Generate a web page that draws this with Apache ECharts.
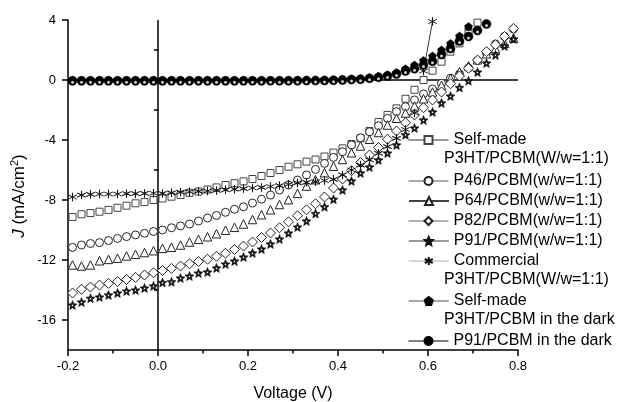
<!DOCTYPE html>
<html><head><meta charset="utf-8">
<script src="https://cdn.jsdelivr.net/npm/echarts@6/dist/echarts.min.js"></script>
<style>html,body{margin:0;padding:0;background:#fff}#c{width:619px;height:402px}</style>
</head><body><div id="c"></div>
<script>
// ---- data ----
const voltages = [-0.19,-0.17,-0.15,-0.13,-0.11,-0.09,-0.07,-0.05,-0.03,-0.01,
  0.01,0.03,0.05,0.07,0.09,0.11,0.13,0.15,0.17,0.19,
  0.21,0.23,0.25,0.27,0.29,0.31,0.33,0.35,0.37,0.39,
  0.41,0.43,0.45,0.47,0.49,0.51,0.53,0.55,0.57,0.59,
  0.61,0.63,0.65,0.67,0.69,0.71,0.73,0.75,0.77,0.79];

const selfMade = [-9.13,-8.95,-8.87,-8.78,-8.66,-8.52,-8.38,-8.22,-8.14,-8.0,
  -7.9,-7.78,-7.67,-7.52,-7.44,-7.3,-7.16,-7.0,-6.88,-6.76,
  -6.6,-6.4,-6.2,-6.0,-5.78,-5.62,-5.44,-5.3,-5.1,-4.84,
  -4.56,-4.27,-3.89,-3.4,-2.8,-2.33,-1.89,-1.25,-0.65,0.0,
  0.62,1.22,1.89,2.44,3.22,3.82];

const p46 = [-11.16,-11.0,-10.9,-10.84,-10.7,-10.56,-10.44,-10.33,-10.22,-10.1,
  -10.0,-9.85,-9.73,-9.6,-9.4,-9.2,-9.03,-8.82,-8.62,-8.45,
  -8.2,-7.95,-7.67,-7.33,-7.0,-6.67,-6.33,-5.96,-5.56,-5.16,
  -4.78,-4.33,-3.85,-3.45,-3.05,-2.56,-2.11,-1.78,-1.33,-0.93,
  -0.6,-0.22,0.12,0.4,0.8,1.3,1.8,2.4,2.9,3.4];

const p64 = [-12.33,-12.4,-12.33,-12.05,-11.96,-11.88,-11.73,-11.62,-11.5,-11.38,
  -11.22,-11.15,-11.0,-10.8,-10.62,-10.45,-10.25,-10.02,-9.82,-9.6,
  -9.3,-8.98,-8.65,-8.3,-7.98,-7.56,-7.07,-6.65,-6.18,-5.75,
  -5.3,-4.85,-4.4,-3.95,-3.5,-3.0,-2.55,-2.2,-1.73,-1.25,
  -0.8,-0.35,0.1,0.55,0.95,1.35,1.75,2.1,2.45,2.8];

const p82 = [-14.2,-13.95,-13.8,-13.67,-13.56,-13.44,-13.3,-13.16,-13.0,-12.85,
  -12.7,-12.56,-12.4,-12.25,-12.1,-11.95,-11.75,-11.55,-11.3,-11.07,
  -10.8,-10.5,-10.2,-9.85,-9.45,-9.05,-8.65,-8.25,-7.8,-7.2,
  -6.6,-6.05,-5.5,-5.0,-4.5,-3.95,-3.4,-2.85,-2.33,-1.85,
  -1.33,-0.8,-0.25,0.27,0.78,1.33,1.89,2.35,2.9,3.44];

const p91 = [-15.0,-14.8,-14.55,-14.47,-14.33,-14.2,-14.07,-14.0,-13.87,-13.73,
  -13.5,-13.45,-13.2,-13.07,-12.87,-12.8,-12.53,-12.27,-12.07,-11.8,
  -11.53,-11.27,-10.93,-10.6,-10.2,-9.8,-9.4,-8.9,-8.45,-7.95,
  -7.33,-6.73,-6.2,-5.8,-5.33,-4.87,-4.33,-3.65,-3.2,-2.67,
  -2.13,-1.53,-1.07,-0.5,-0.05,0.53,1.13,1.67,2.27,2.73];

const commercial = [-7.8,-7.67,-7.62,-7.6,-7.6,-7.6,-7.58,-7.58,-7.56,-7.55,
  -7.56,-7.52,-7.48,-7.45,-7.42,-7.4,-7.36,-7.32,-7.28,-7.24,
  -7.2,-7.16,-7.1,-7.04,-6.95,-6.86,-6.82,-6.78,-6.7,-6.62,
  -6.33,-6.0,-5.67,-5.33,-4.89,-4.44,-3.89,-3.3,-2.2,0.6,
  3.9];

const selfMadeDark = [-0.05,-0.05,-0.05,-0.05,-0.05,-0.05,-0.05,-0.05,-0.05,-0.05,
  -0.05,-0.05,-0.05,-0.05,-0.05,-0.05,-0.05,-0.05,-0.05,-0.05,
  -0.04,-0.04,-0.03,-0.03,-0.02,-0.02,-0.01,0.0,0.0,0.02,
  0.04,0.06,0.1,0.15,0.25,0.35,0.5,0.75,1.0,1.3,
  1.6,2.0,2.44,2.93,3.56];

const p91Dark = [-0.05,-0.05,-0.05,-0.05,-0.05,-0.05,-0.05,-0.05,-0.05,-0.05,
  -0.05,-0.05,-0.05,-0.05,-0.05,-0.05,-0.05,-0.05,-0.05,-0.05,
  -0.05,-0.05,-0.05,-0.05,-0.05,-0.05,-0.04,-0.04,-0.03,-0.02,
  0.0,0.03,0.05,0.11,0.18,0.27,0.4,0.6,0.75,1.0,
  1.25,1.7,2.1,2.6,2.9,3.3,3.73];

const seriesNames = ['Self-made P3HT/PCBM(W/w=1:1)','P46/PCBM(w/w=1:1)','P64/PCBM(w/w=1:1)',
  'P82/PCBM(w/w=1:1)','P91/PCBM(w/w=1:1)','Commercial P3HT/PCBM(W/w=1:1)',
  'Self-made P3HT/PCBM in the dark','P91/PCBM in the dark'];
const legendFirstLines = ['Self-made','P46/PCBM(w/w=1:1)','P64/PCBM(w/w=1:1)','P82/PCBM(w/w=1:1)',
  'P91/PCBM(w/w=1:1)','Commercial','Self-made','P91/PCBM in the dark'];
const legendSecondLines = ['P3HT/PCBM(W/w=1:1)',null,null,null,null,'P3HT/PCBM(W/w=1:1)','P3HT/PCBM in the dark',null];

const yTicks = [-16,-12,-8,-4,0,4];
const yMinorTicks = [-14,-10,-6,-2,2];

// ---- styles ----
const FONT = 'Liberation Sans, Arial, Helvetica, sans-serif';
const STAR = 'path://M0,-10 L2.645,-3.641 L9.511,-3.09 L4.28,1.391 L5.878,8.09 L0,4.5 L-5.878,8.09 L-4.28,1.391 L-9.511,-3.09 L-2.645,-3.641 Z M0,-2.6 L-2.473,-0.803 L-1.528,2.103 L1.528,2.103 L2.473,-0.803 Z';
const ASTER = 'path://M0,-10 L0,10 M-8.66,-5 L8.66,5 M-8.66,5 L8.66,-5';
const PENT = 'path://M0,-10 L9.511,-3.09 L5.878,8.09 L-5.878,8.09 L-9.511,-3.09 Z';

const seriesData = [selfMade,p46,p64,p82,p91,commercial,selfMadeDark,p91Dark];
const symbols = ['rect','circle','triangle','diamond',STAR,ASTER,PENT,'circle'];
const symSizes = [7,8,8.5,10,9,8.5,8,9];
const fills = ['#fff','#fff','#fff','#fff','#111','#000','#000','#000'];
const borders = ['#444','#222','#222','#222','#111','#111','#000','#000'];
const borderW = [1,1,1,1,0.6,1.1,0.5,0.5];
const legendLineColors = ['#333','#555','#444','#666','#777','#c8c8c8','#888','#000'];
const legendLineWidths = [1,1,2,1,1.5,1.5,1.5,1];
const legendCenters = [140,181,201,221,241,261,301,341];

const series = seriesData.map((vals,i)=>({
  name: seriesNames[i],
  type: 'line',
  data: vals.map((v,k)=>[voltages[k], v]),
  symbol: symbols[i],
  symbolSize: symSizes[i],
  showAllSymbol: true,
  lineStyle: {opacity: 0, width: 1},
  itemStyle: {color: fills[i], borderColor: borders[i], borderWidth: borderW[i]},
  z: 3 + (i >= 6 ? 1 : 0),
  markLine: i === 0 ? {
    silent: true, symbol: ['none','none'], label: {show:false},
    lineStyle: {color:'#000', width:1.5, type:'solid'},
    data: [{yAxis: 0}, {xAxis: 0}], z: 1, animation: false
  } : undefined
}));
// white highlight inside the half-filled dark circles
series.push({
  name: 'P91 dark highlight', type: 'scatter', silent: true,
  data: p91Dark.map((v,k)=>[voltages[k], v]),
  symbol: 'circle', symbolSize: 3, symbolOffset: [0, 1.5],
  itemStyle: {color: '#fff'}, z: 5
});
// connecting segment for the last commercial points
series.push({
  name: 'Commercial tail', type: 'line', silent: true,
  data: commercial.slice(-2).map((v,k)=>[voltages[commercial.length - 2 + k], v]),
  showSymbol: false, lineStyle: {color: '#333', width: 1}, z: 2
});

const legends = seriesNames.map((n,i)=>({
  data: [n], left: 408, top: legendCenters[i] - 10, orient: 'vertical',
  padding: 0, itemWidth: 40, itemHeight: 10, selectedMode: false,
  formatter: () => legendFirstLines[i],
  textStyle: {fontFamily: FONT, fontSize: 16, lineHeight: 20, color: '#000'},
  lineStyle: {color: legendLineColors[i], width: legendLineWidths[i], opacity: 1}
}));

const graphics = [];
legendSecondLines.forEach((t,i)=>{
  if (t) graphics.push({type:'text', left: 444, top: legendCenters[i] + 11,
    style: {text: t, font: '16px ' + FONT, fill: '#000'}});
});
// y-axis title (italic J, superscript 2)
graphics.push({
  type: 'text', x: 19, y: 196, rotation: Math.PI / 2,
  style: {
    text: '{i|J}{n| (mA/cm}{s|2}{n|)}', align: 'center', verticalAlign: 'middle',
    rich: {
      i: {fontFamily: FONT, fontSize: 17, fontStyle: 'italic', fill: '#000'},
      n: {fontFamily: FONT, fontSize: 17, fill: '#000'},
      s: {fontFamily: FONT, fontSize: 11, fill: '#000', padding: [0,0,9,0]}
    }
  }
});

const chart = echarts.init(document.getElementById('c'), null, {renderer:'canvas'});
chart.setOption({
  animation: false,
  backgroundColor: '#fff',
  grid: {left: 68, right: 101, top: 20, bottom: 52, containLabel: false, outerBoundsMode: 'none'},
  legend: legends,
  graphic: graphics,
  xAxis: {
    type: 'value', min: -0.2, max: 0.8, interval: 0.2,
    name: 'Voltage (V)', nameLocation: 'middle', nameGap: 36,
    nameTextStyle: {fontFamily: FONT, fontSize: 16, color: '#000'},
    axisLine: {onZero: false, lineStyle: {color:'#000', width: 1.5}},
    axisTick: {length: 6, lineStyle: {color:'#000', width: 1.5}},
    minorTick: {show: true, splitNumber: 2, length: 3.5, lineStyle: {color:'#000', width: 1.5}},
    splitLine: {show: false},
    axisLabel: {fontFamily: FONT, fontSize: 13, color: '#000', margin: 10,
      formatter: v => v.toFixed(1)}
  },
  yAxis: [{
    type: 'value', min: -18, max: 4,
    axisLine: {onZero: false, lineStyle: {color:'#000', width: 1.5}},
    axisTick: {length: 6, customValues: yTicks, lineStyle: {color:'#000', width: 1.5}},
    splitLine: {show: false},
    axisLabel: {fontFamily: FONT, fontSize: 13, color: '#000', margin: 12, customValues: yTicks}
  },{
    type: 'value', min: -18, max: 4, position: 'left', offset: 0,
    axisLine: {show: false},
    axisTick: {show: true, length: 4, customValues: yMinorTicks, lineStyle: {color:'#000', width: 1.5}},
    axisLabel: {show: false}, splitLine: {show: false}
  }],
  series: series
});
</script></body></html>
